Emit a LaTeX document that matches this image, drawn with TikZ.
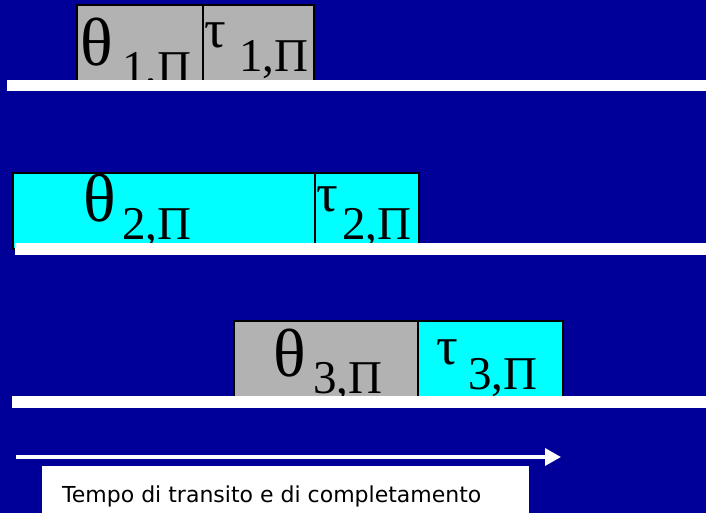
\documentclass[tikz,border=0pt]{standalone}
\usepackage{fontspec}
\usetikzlibrary{arrows.meta}
\setmainfont{Liberation Serif}
\newfontfamily\labfont{DejaVu Sans}
\definecolor{bgblue}{RGB}{0,0,153}
\definecolor{boxgray}{RGB}{178,178,178}
\definecolor{boxcyan}{RGB}{0,255,255}
\begin{document}
\begin{tikzpicture}[x=1pt,y=-1pt,
  cell/.style={draw=black, line width=2pt},
  bar/.style={fill=white, draw=none},
  big/.style={inner sep=0, anchor=base west, font=\fontsize{68}{68}\selectfont},
  bigtau/.style={inner sep=0, anchor=base west, font=\fontsize{54}{54}\selectfont},
  sub/.style={inner sep=0, anchor=base west, font=\fontsize{47}{47}\selectfont}]
\useasboundingbox (0,0) rectangle (706,513);
\fill[bgblue] (0,0) rectangle (706,513);
% row 1
\filldraw[cell, fill=boxgray] (77,5) rectangle (203,86);
\filldraw[cell, fill=boxgray] (203,5) rectangle (314,86);
\node[big] (th1) at (80,66) {θ};
\node[sub] (th1s) at (122,84) {1,Π};
\node[bigtau] (ta1) at (204,48) {τ};
\node[sub] (ta1s) at (239,72) {1,Π};
\fill[bar] (7,80) rectangle (706,91);
% row 2
\filldraw[cell, fill=boxcyan] (13,173) rectangle (315,249);
\filldraw[cell, fill=boxcyan] (315,173) rectangle (419,249);
\node[big] (th2) at (83,221) {θ};
\node[sub] (th2s) at (122,239) {2,Π};
\node[bigtau] (ta2) at (316,211) {τ};
\node[sub] (ta2s) at (342,239) {2,Π};
\fill[bar] (15,243) rectangle (706,255);
% row 3
\filldraw[cell, fill=boxgray] (234,321) rectangle (418,402);
\filldraw[cell, fill=boxcyan] (418,321) rectangle (563,402);
\node[big] (th3) at (273,376) {θ};
\node[sub] (th3s) at (313,393) {3,Π};
\node[bigtau] (ta3) at (436,364) {τ};
\node[sub] (ta3s) at (468,389) {3,Π};
\fill[bar] (12,396) rectangle (706,408);
% time arrow
\coordinate (a0) at (16,457);
\coordinate (a1) at (561,457);
\draw[white, line width=3.5pt, -{Triangle[length=16pt,width=17pt]}] (a0) -- (a1);
% label
\node[fill=white, inner sep=0, minimum width=487pt, minimum height=48pt, anchor=north west] (labbox) at (42,466) {};
\node[inner sep=0, anchor=base west, font=\labfont\fontsize{22}{22}\selectfont] (lab) at (62,502) {Tempo di transito e di completamento};
\end{tikzpicture}
\end{document}
